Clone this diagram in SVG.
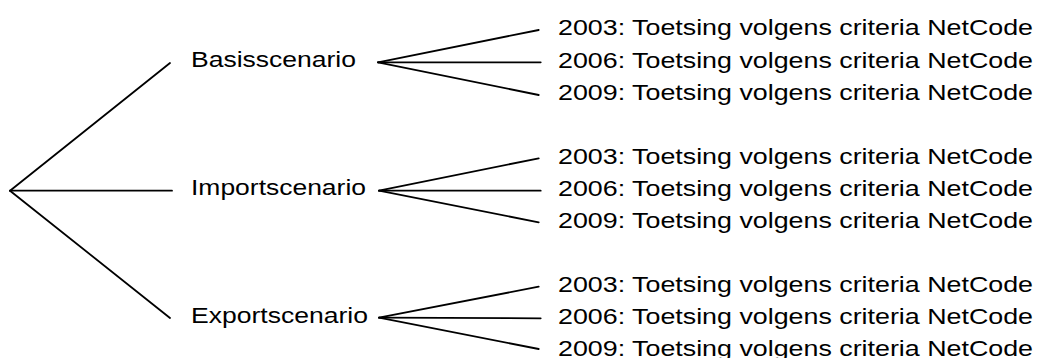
<svg xmlns="http://www.w3.org/2000/svg" width="1038" height="358" viewBox="0 0 1038 358">
<style>
.t{font-family:"Liberation Sans",Arial,sans-serif;font-size:22px;fill:#000}
.c line{stroke:#000;stroke-width:1.8;stroke-linecap:round}
</style>
<rect width="1038" height="358" fill="#fff"/>
<g class="c" id="connectors">
<line x1="10" y1="190.7" x2="170" y2="63"/>
<line x1="10" y1="190.7" x2="172" y2="190.7"/>
<line x1="10" y1="190.7" x2="170" y2="318"/>
<line x1="378" y1="62.3" x2="538.7" y2="30"/>
<line x1="378" y1="62.3" x2="540.7" y2="62.3"/>
<line x1="378" y1="62.3" x2="538.7" y2="95"/>
<line x1="379" y1="190.7" x2="538.7" y2="158.3"/>
<line x1="379" y1="190.7" x2="540.7" y2="190.7"/>
<line x1="379" y1="190.7" x2="538.7" y2="222.3"/>
<line x1="379" y1="317.7" x2="538.7" y2="286.7"/>
<line x1="379" y1="317.7" x2="540.7" y2="318.3"/>
<line x1="379" y1="317.7" x2="538.7" y2="349"/>
</g>
<g id="basis"><text class="t" x="191" y="66.5" textLength="165" lengthAdjust="spacingAndGlyphs">Basisscenario</text></g>
<g id="import"><text class="t" x="191" y="195" textLength="175" lengthAdjust="spacingAndGlyphs">Importscenario</text></g>
<g id="export"><text class="t" x="191" y="323" textLength="177" lengthAdjust="spacingAndGlyphs">Exportscenario</text></g>
<g id="b2003"><text class="t" x="558" y="35.3" textLength="475" lengthAdjust="spacingAndGlyphs">2003: Toetsing volgens criteria NetCode</text></g>
<g id="b2006"><text class="t" x="558" y="67.5" textLength="475" lengthAdjust="spacingAndGlyphs">2006: Toetsing volgens criteria NetCode</text></g>
<g id="b2009"><text class="t" x="558" y="99.5" textLength="475" lengthAdjust="spacingAndGlyphs">2009: Toetsing volgens criteria NetCode</text></g>
<g id="i2003"><text class="t" x="558" y="163.5" textLength="475" lengthAdjust="spacingAndGlyphs">2003: Toetsing volgens criteria NetCode</text></g>
<g id="i2006"><text class="t" x="558" y="195.5" textLength="475" lengthAdjust="spacingAndGlyphs">2006: Toetsing volgens criteria NetCode</text></g>
<g id="i2009"><text class="t" x="558" y="227.5" textLength="475" lengthAdjust="spacingAndGlyphs">2009: Toetsing volgens criteria NetCode</text></g>
<g id="e2003"><text class="t" x="558" y="291.5" textLength="475" lengthAdjust="spacingAndGlyphs">2003: Toetsing volgens criteria NetCode</text></g>
<g id="e2006"><text class="t" x="558" y="323.5" textLength="475" lengthAdjust="spacingAndGlyphs">2006: Toetsing volgens criteria NetCode</text></g>
<g id="e2009"><text class="t" x="558" y="355.5" textLength="475" lengthAdjust="spacingAndGlyphs">2009: Toetsing volgens criteria NetCode</text></g>
</svg>
